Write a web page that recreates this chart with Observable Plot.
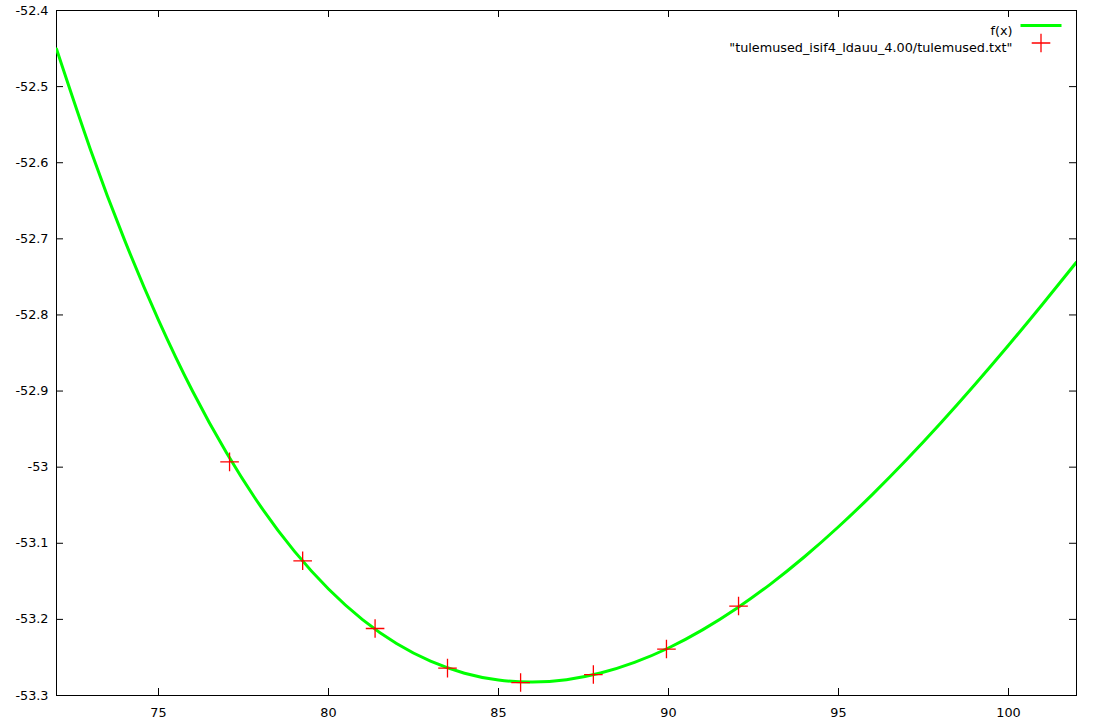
<!DOCTYPE html>
<html>
<head>
<meta charset="utf-8">
<script src="https://cdn.jsdelivr.net/npm/d3@7"></script>
<script src="https://cdn.jsdelivr.net/npm/@observablehq/plot@0.6"></script>
<style>
  html, body { margin: 0; padding: 0; background: #fff; }
</style>
</head>
<body>
<div id="chart"></div>
<script>
// Fitted curve f(x)
const curveX = [72, 73, 74, 75, 76, 77, 78, 79, 80, 81, 82, 83, 84, 85, 86, 87, 88, 89, 90, 91, 92, 93, 94, 95, 96, 97, 98, 99, 100, 101, 102];
const curveY = [-52.4506, -52.5828, -52.7014, -52.8068, -52.9000, -52.9812, -53.0513, -53.1106, -53.1601, -53.2003,
                -53.2317, -53.2549, -53.2707, -53.2797, -53.2824, -53.2792, -53.2705, -53.2565, -53.2376, -53.2138,
                -53.1857, -53.1536, -53.1177, -53.0783, -53.0357, -52.9903, -52.9423, -52.8920, -52.8398, -52.7859, -52.7306];

// Data points from "tulemused_isif4_ldauu_4.00/tulemused.txt"
const pointsX = [77.09, 79.24, 81.37, 83.50, 85.65, 87.79, 89.94, 92.06];
const pointsY = [-52.993, -53.123, -53.212, -53.264, -53.283, -53.2725, -53.239, -53.1825];

// Ticks
const xTicks = [75, 80, 85, 90, 95, 100];
const yTicks = [-53.3, -53.2, -53.1, -53.0, -52.9, -52.8, -52.7, -52.6, -52.5, -52.4];

const legendLabels = ["f(x)", "\"tulemused_isif4_ldauu_4.00/tulemused.txt\""];

const curve = curveX.map((x, i) => ({x, y: curveY[i]}));
const points = pointsX.map((x, i) => ({x, y: pointsY[i]}));

const W = 1098, H = 726, mL = 56, mR = 22, mT = 10, mB = 31;
const plotW = W - mL - mR, plotH = H - mT - mB;
const tickLen = 7;

const cross = {
  draw(ctx, size) {
    const r = Math.sqrt(size / Math.PI);
    ctx.moveTo(-r, 0); ctx.lineTo(r, 0);
    ctx.moveTo(0, -r); ctx.lineTo(0, r);
  }
};
const hline = {
  draw(ctx, size) {
    const r = Math.sqrt(size / Math.PI);
    ctx.moveTo(-r, 0); ctx.lineTo(r, 0);
  }
};

const fmtY = d => String(+d.toFixed(1));

const chart = Plot.plot({
  width: W, height: H,
  marginLeft: mL, marginRight: mR, marginTop: mT, marginBottom: mB,
  style: {fontFamily: "DejaVu Sans", fontSize: "12.8px", background: "white", color: "black"},
  x: {domain: [72, 102]},
  y: {domain: [-53.3, -52.4]},
  marks: [
    Plot.axisX({ticks: xTicks, tickSize: 0, tickPadding: 12, tickFormat: d => String(d), label: null}),
    Plot.axisY({ticks: yTicks, tickSize: 0, tickPadding: 8, tickFormat: fmtY, label: null}),
    Plot.tickX(xTicks, {x: d => d, insetTop: plotH - tickLen, stroke: "black"}),
    Plot.tickX(xTicks, {x: d => d, insetBottom: plotH - tickLen, stroke: "black"}),
    Plot.tickY(yTicks, {y: d => d, insetRight: plotW - tickLen, stroke: "black"}),
    Plot.tickY(yTicks, {y: d => d, insetLeft: plotW - tickLen, stroke: "black"}),
    Plot.frame({stroke: "black"}),
    Plot.line(curve, {x: "x", y: "y", stroke: "#00ff00", strokeWidth: 3, curve: "natural", clip: true}),
    Plot.dot(points, {x: "x", y: "y", symbol: cross, r: 9.3, stroke: "#ff0000", strokeWidth: 1.3, fill: "none"}),
    // legend
    Plot.text([legendLabels[0]], {text: d => d, frameAnchor: "top-right", dx: -64, dy: 15, textAnchor: "end", fill: "black"}),
    Plot.text([legendLabels[1]], {text: d => d, frameAnchor: "top-right", dx: -64, dy: 32.5, textAnchor: "end", fill: "black"}),
    Plot.dot([0], {frameAnchor: "top-right", dx: -35.5, dy: 15, symbol: hline, r: 20.5, stroke: "#00ff00", strokeWidth: 3, fill: "none"}),
    Plot.dot([0], {frameAnchor: "top-right", dx: -35.5, dy: 32.5, symbol: cross, r: 9.3, stroke: "#ff0000", strokeWidth: 1.3, fill: "none"})
  ]
});
document.getElementById("chart").appendChild(chart);
</script>
</body>
</html>
